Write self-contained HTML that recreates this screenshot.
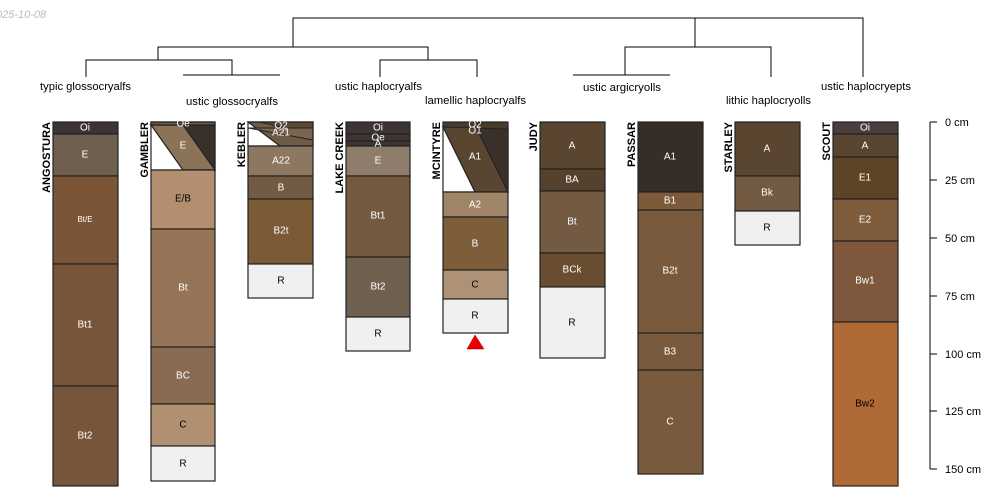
<!DOCTYPE html>
<html><head><meta charset="utf-8"><style>
html,body{margin:0;padding:0;background:#fff}
svg{display:block;font-family:"Liberation Sans",sans-serif}
</style></head><body>
<svg width="1000" height="500" viewBox="0 0 1000 500" xmlns="http://www.w3.org/2000/svg">
<text x="-4" y="18" font-size="11" fill="#bbb" font-style="italic">025-10-08</text>
<text x="-3" y="490" font-size="11" fill="#bbb" font-style="italic">l</text>
<g stroke="#000" stroke-width="1" fill="none">
<path d="M293 47V18H863V77M695 18V47"/>
<path d="M158 60V47H428V60M86 77V60H232V75M183 75H280M380 77V60H477V77"/>
<path d="M625 75V47H771V77M573 75H670"/>
</g>
<g font-size="11" fill="#000" textLength="">
<text x="40" y="90" textLength="91" lengthAdjust="spacingAndGlyphs">typic glossocryalfs</text>
<text x="186" y="105" textLength="92" lengthAdjust="spacingAndGlyphs">ustic glossocryalfs</text>
<text x="335" y="90" textLength="87" lengthAdjust="spacingAndGlyphs">ustic haplocryalfs</text>
<text x="425" y="104" textLength="101" lengthAdjust="spacingAndGlyphs">lamellic haplocryalfs</text>
<text x="583" y="91" textLength="78" lengthAdjust="spacingAndGlyphs">ustic argicryolls</text>
<text x="726" y="104" textLength="85" lengthAdjust="spacingAndGlyphs">lithic haplocryolls</text>
<text x="821" y="90" textLength="90" lengthAdjust="spacingAndGlyphs">ustic haplocryepts</text>
</g>
<g stroke="#222" stroke-width="1.2">
<rect x="53" y="122" width="65" height="12" fill="#3d3533"/>
<rect x="53" y="134" width="65" height="42" fill="#6f5f4f"/>
<rect x="53" y="176" width="65" height="88" fill="#7a5538"/>
<rect x="53" y="264" width="65" height="122" fill="#77553a"/>
<rect x="53" y="386" width="65" height="100" fill="#77553a"/>
<rect x="151" y="122" width="64" height="48" fill="#fff" stroke="none"/>
<polygon points="151,125 215,125 215,170" fill="#38302a"/>
<polygon points="151,125 183,125 215,170 183,170" fill="#8b7358"/>
<rect x="151" y="122" width="64" height="3" fill="#6a5a48"/>
<rect x="151" y="122" width="64" height="48" fill="none"/>
<rect x="151" y="170" width="64" height="59" fill="#b38f70"/>
<rect x="151" y="229" width="64" height="118" fill="#957457"/>
<rect x="151" y="347" width="64" height="57" fill="#8a6a50"/>
<rect x="151" y="404" width="64" height="42" fill="#b09070"/>
<rect x="151" y="446" width="64" height="35" fill="#f0f0f0"/>
<rect x="248" y="122" width="65" height="24" fill="#fff" stroke="none"/>
<polygon points="248,122 313,122 313,146 280,146" fill="#6e5b48"/>
<polygon points="260,122 313,122 313,135" fill="#5a4838" stroke-width="1"/>
<polygon points="248,128 313,128 313,140" fill="#7a6550" stroke-width="1"/>
<rect x="248" y="122" width="65" height="24" fill="none"/>
<rect x="248" y="146" width="65" height="30" fill="#8e7760"/>
<rect x="248" y="176" width="65" height="23" fill="#735a42"/>
<rect x="248" y="199" width="65" height="65" fill="#7b5a38"/>
<rect x="248" y="264" width="65" height="34" fill="#f0f0f0"/>
<rect x="346" y="122" width="64" height="12" fill="#3d3533"/>
<rect x="346" y="134" width="64" height="7" fill="#3d3533"/>
<rect x="346" y="141" width="64" height="5" fill="#3d3533"/>
<rect x="346" y="146" width="64" height="30" fill="#8f7d6c"/>
<rect x="346" y="176" width="64" height="81" fill="#735a40"/>
<rect x="346" y="257" width="64" height="60" fill="#6f6050"/>
<rect x="346" y="317" width="64" height="34" fill="#f0f0f0"/>
<rect x="443" y="122" width="65" height="70" fill="#fff" stroke="none"/>
<polygon points="443,127 508,127 508,192" fill="#3a302a"/>
<polygon points="443,127 476,127 508,192 475,192" fill="#5a4530"/>
<polygon points="443,122 508,122 508,129 443,127" fill="#4a3a2c" stroke-width="1"/>
<rect x="443" y="122" width="65" height="70" fill="none"/>
<rect x="443" y="192" width="65" height="25" fill="#a08468"/>
<rect x="443" y="217" width="65" height="53" fill="#7d5d3a"/>
<rect x="443" y="270" width="65" height="29" fill="#ad9275"/>
<rect x="443" y="299" width="65" height="34" fill="#f0f0f0"/>
<rect x="540" y="122" width="65" height="47" fill="#5a4530"/>
<rect x="540" y="169" width="65" height="22" fill="#55412d"/>
<rect x="540" y="191" width="65" height="62" fill="#725b42"/>
<rect x="540" y="253" width="65" height="34" fill="#684d30"/>
<rect x="540" y="287" width="65" height="71" fill="#f0f0f0"/>
<rect x="638" y="122" width="65" height="70" fill="#352d28"/>
<rect x="638" y="192" width="65" height="18" fill="#7e5a3c"/>
<rect x="638" y="210" width="65" height="123" fill="#7a5a3c"/>
<rect x="638" y="333" width="65" height="37" fill="#7a5a3c"/>
<rect x="638" y="370" width="65" height="104" fill="#7a5a3c"/>
<rect x="735" y="122" width="65" height="54" fill="#5a4530"/>
<rect x="735" y="176" width="65" height="35" fill="#725b42"/>
<rect x="735" y="211" width="65" height="34" fill="#f0f0f0"/>
<rect x="833" y="122" width="65" height="12" fill="#4a3f3d"/>
<rect x="833" y="134" width="65" height="23" fill="#5a4530"/>
<rect x="833" y="157" width="65" height="42" fill="#5e4427"/>
<rect x="833" y="199" width="65" height="42" fill="#7f5c3c"/>
<rect x="833" y="241" width="65" height="81" fill="#7e573c"/>
<rect x="833" y="322" width="65" height="164" fill="#b06a35"/>
</g>
<polygon points="475,335 467,349 484,349" fill="#e00" stroke="#900" stroke-width="0.5"/>
<g font-size="10" fill="#fff" text-anchor="middle" dominant-baseline="middle">
<text x="85" y="128">Oi</text><text x="85" y="155">E</text><text x="85" y="220" font-size="8">Bt/E</text><text x="85" y="325">Bt1</text><text x="85" y="436">Bt2</text>
<text x="183" y="124">Oe</text><text x="183" y="146">E</text>
<text x="183" y="199" fill="#000">E/B</text><text x="183" y="288">Bt</text><text x="183" y="376">BC</text><text x="183" y="425" fill="#000">C</text><text x="183" y="464" fill="#000">R</text>
<text x="281" y="126">O2</text><text x="281" y="133">A21</text><text x="281" y="161">A22</text><text x="281" y="188">B</text><text x="281" y="231">B2t</text><text x="281" y="281" fill="#000">R</text>
<text x="378" y="128">Oi</text><text x="378" y="138">Oe</text><text x="378" y="144">A</text><text x="378" y="161">E</text><text x="378" y="216">Bt1</text><text x="378" y="287">Bt2</text><text x="378" y="334" fill="#000">R</text>
<text x="475" y="125">O2</text><text x="475" y="131">O1</text><text x="475" y="157">A1</text><text x="475" y="205">A2</text><text x="475" y="244">B</text><text x="475" y="285" fill="#000">C</text><text x="475" y="316" fill="#000">R</text>
<text x="572" y="146">A</text><text x="572" y="180">BA</text><text x="572" y="222">Bt</text><text x="572" y="270">BCk</text><text x="572" y="323" fill="#000">R</text>
<text x="670" y="157">A1</text><text x="670" y="201">B1</text><text x="670" y="271">B2t</text><text x="670" y="352">B3</text><text x="670" y="422">C</text>
<text x="767" y="149">A</text><text x="767" y="193">Bk</text><text x="767" y="228" fill="#000">R</text>
<text x="865" y="128">Oi</text><text x="865" y="146">A</text><text x="865" y="178">E1</text><text x="865" y="220">E2</text><text x="865" y="281">Bw1</text><text x="865" y="404" fill="#000">Bw2</text>
</g>
<g font-size="11" font-weight="bold" fill="#000" text-anchor="end">
<text transform="translate(50,122) rotate(-90)">ANGOSTURA</text>
<text transform="translate(148,122) rotate(-90)">GAMBLER</text>
<text transform="translate(245,122) rotate(-90)">KEBLER</text>
<text transform="translate(343,122) rotate(-90)">LAKE CREEK</text>
<text transform="translate(440,122) rotate(-90)">MCINTYRE</text>
<text transform="translate(537,122) rotate(-90)">JUDY</text>
<text transform="translate(635,122) rotate(-90)">PASSAR</text>
<text transform="translate(732,122) rotate(-90)">STARLEY</text>
<text transform="translate(830,122) rotate(-90)">SCOUT</text>
</g>
<g stroke="#000" stroke-width="1">
<path d="M930 122V469M930 122H937M930 180H937M930 238H937M930 296H937M930 354H937M930 411H937M930 469H937"/>
</g>
<g font-size="11" fill="#000" dominant-baseline="middle">
<text x="945" y="123">0 cm</text><text x="945" y="181">25 cm</text><text x="945" y="239">50 cm</text><text x="945" y="297">75 cm</text><text x="945" y="355">100 cm</text><text x="945" y="412">125 cm</text><text x="945" y="470">150 cm</text>
</g>
</svg>
</body></html>
